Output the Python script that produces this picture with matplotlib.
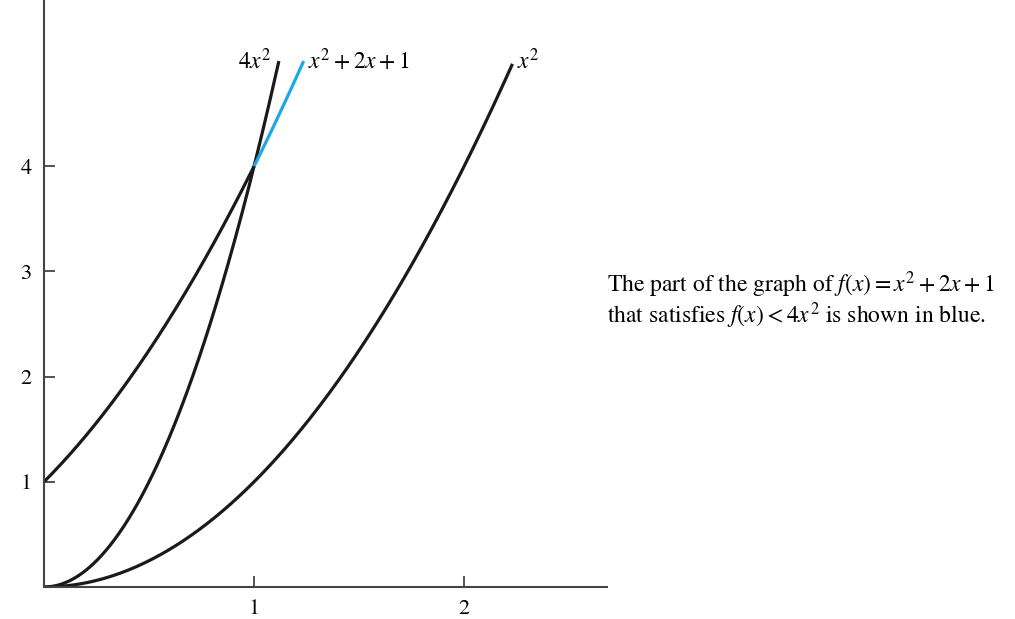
import numpy as np
import matplotlib
matplotlib.use("Agg")
import matplotlib.pyplot as plt

plt.rcParams['font.family'] = ['STIXGeneral', 'DejaVu Serif']
plt.rcParams['mathtext.fontset'] = 'stix'

# curve end points (x where each curve stops)
x_end_4x2 = 1.118
x_end_quad = 1.236
x_end_x2 = 2.23
x_meet = 1.0           # where x^2+2x+1 meets 4x^2
xticks = [1, 2]
yticks = [1, 2, 3, 4]
xlim = (0, 2.68)
ylim = (0, 5.58)

black = '#1a1a1a'
blue = '#1aa9e6'
axcol = '#444444'

fig = plt.figure(figsize=(10.15, 6.19), dpi=100)
ax = fig.add_axes([44 / 1015, 32 / 619, (607 - 44) / 1015, 587 / 619])

x1 = np.linspace(0, x_end_4x2, 200)
ax.plot(x1, 4 * x1**2, color=black, lw=2.3, solid_capstyle='butt')

x2 = np.linspace(0, x_meet, 200)
ax.plot(x2, x2**2 + 2 * x2 + 1, color=black, lw=2.3, solid_capstyle='butt')
x2b = np.linspace(x_meet, x_end_quad, 50)
ax.plot(x2b, x2b**2 + 2 * x2b + 1, color=blue, lw=2.3, solid_capstyle='butt')

x3 = np.linspace(0, x_end_x2, 300)
ax.plot(x3, x3**2, color=black, lw=2.3, solid_capstyle='butt')

# curve labels
ax.annotate(r'$4x^2$', (x_end_4x2, 4 * x_end_4x2**2), xytext=(-5, 0),
            textcoords='offset points', ha='right', va='center', fontsize=17)
ax.annotate(r'$x^2 + 2x + 1$', (x_end_quad, x_end_quad**2 + 2 * x_end_quad + 1),
            xytext=(3, 0), textcoords='offset points', ha='left', va='center', fontsize=17)
ax.annotate(r'$x^2$', (x_end_x2, x_end_x2**2), xytext=(3, 2),
            textcoords='offset points', ha='left', va='center', fontsize=17)

ax.set_xlim(*xlim)
ax.set_ylim(*ylim)
ax.set_xticks(xticks)
ax.set_yticks(yticks)
ax.tick_params(direction='in', length=8, width=1.3, color=axcol, labelsize=16, pad=9)
for s in ['top', 'right']:
    ax.spines[s].set_visible(False)
for s in ['left', 'bottom']:
    ax.spines[s].set_color(axcol)
    ax.spines[s].set_linewidth(1.5)
ax.patch.set_alpha(0)

fig.text(607 / 1015, 1 - 285 / 619,
         r'The part of the graph of $f(x) = x^2 + 2x + 1$',
         ha='left', va='center', fontsize=17)
fig.text(607 / 1015, 1 - 316 / 619,
         r'that satisfies $f(x) < 4x^2$ is shown in blue.',
         ha='left', va='center', fontsize=17)

fig.savefig('out.png', dpi=100)
